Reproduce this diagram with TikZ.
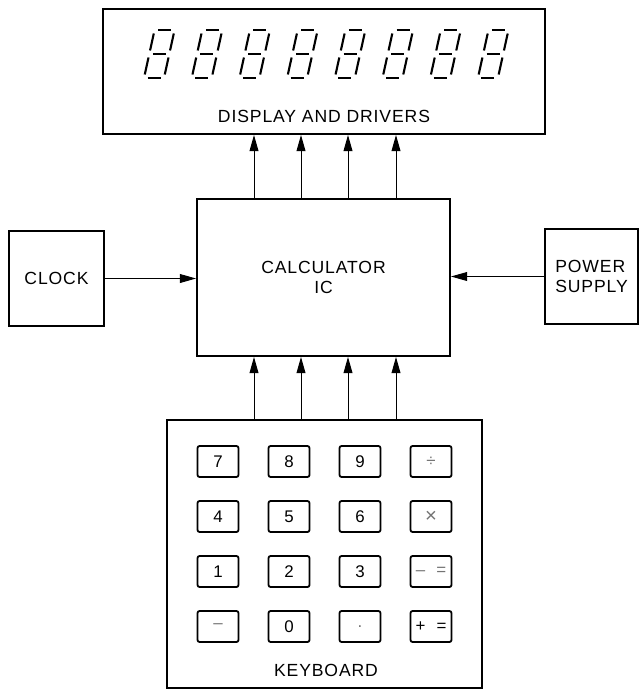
\documentclass[tikz,border=0pt]{standalone}
\usepackage{fontspec}
\setmainfont[LetterSpace=5]{Liberation Sans}
\usetikzlibrary{arrows.meta}
\definecolor{keygray}{gray}{0.45}
\tikzstyle{block} = [rectangle, draw=black, line width=1.4pt, inner sep=0pt, text centered, font=\fontsize{12.5}{14.2}\selectfont]
\tikzstyle{keycap} = [rectangle, rounded corners=1.5pt, draw=black, line width=1.3pt, minimum width=1.025cm, minimum height=0.775cm, inner sep=0pt, font=\fontsize{12}{14}\selectfont]
\tikzstyle{caption} = [inner sep=0pt, font=\fontsize{12.5}{14.2}\selectfont]
\tikzstyle{arrow} = [line width=0.7pt, -{Triangle[length=4mm,width=2.2mm]}]
\tikzstyle{segment} = [line width=1.5pt]

\begin{document}
\begin{tikzpicture}[x=0.025cm, y=-0.025cm]
    \useasboundingbox (0,0) rectangle (640,690);

    % blocks
    \node (disp) [block, minimum width=11.05cm, minimum height=3.125cm] at (324,71.5) {};
    \node (displabel) [caption] at (324,116) {DISPLAY AND DRIVERS};
    \node (calc) [block, minimum width=6.325cm, minimum height=3.925cm, align=center] at (323.5,277.5) {CALCULATOR\\IC};
    \node (clock) [block, minimum width=2.375cm, minimum height=2.375cm] at (56.5,278.5) {CLOCK};
    \node (power) [block, minimum width=2.325cm, minimum height=2.375cm, align=left] at (591.5,276.5) {POWER\\SUPPLY};
    \node (kbd) [block, minimum width=7.875cm, minimum height=6.7cm] at (324.5,554) {};
    \node (kbdlabel) [caption] at (326,670) {KEYBOARD};

    % seven segment digits
    \foreach \d in {0,...,7} {
        \begin{scope}[shift={(144+47.7*\d,78)}, xslant=0.22]
            \draw [segment] (3.5,-48) -- (16.5,-48);
            \draw [segment] (3.5,-24) -- (16.5,-24);
            \draw [segment] (3.5,0) -- (16.5,0);
            \draw [segment] (0,-44.5) -- (0,-27.5);
            \draw [segment] (20,-44.5) -- (20,-27.5);
            \draw [segment] (0,-20.5) -- (0,-3.5);
            \draw [segment] (20,-20.5) -- (20,-3.5);
        \end{scope}
    }

    % keys
    \foreach \lab/\tone [count=\i from 0] in {7/black, 8/black, 9/black, ÷/keygray,
        4/black, 5/black, 6/black, {\Large×}/keygray,
        1/black, 2/black, 3/black, {–\ \ =}/keygray,
        –/keygray, 0/black, ./keygray, {+\ \ =}/black} {
        \pgfmathsetmacro{\col}{mod(\i,4)}
        \pgfmathsetmacro{\row}{int(\i/4)}
        \node (key-\i) [keycap, text=\tone] at (218+71*\col, 461.5+55*\row) {\lab};
    }

    % connections
    \draw [arrow] (clock.east) -- (calc.west |- clock.east);
    \draw [arrow] (power.west) -- (calc.east |- power.west);
    \foreach \x in {254,301,348,396} {
        \draw [arrow] (calc.north -| \x,0) -- (disp.south -| \x,0);
        \draw [arrow] (kbd.north -| \x,0) -- (calc.south -| \x,0);
    }
\end{tikzpicture}
\end{document}
